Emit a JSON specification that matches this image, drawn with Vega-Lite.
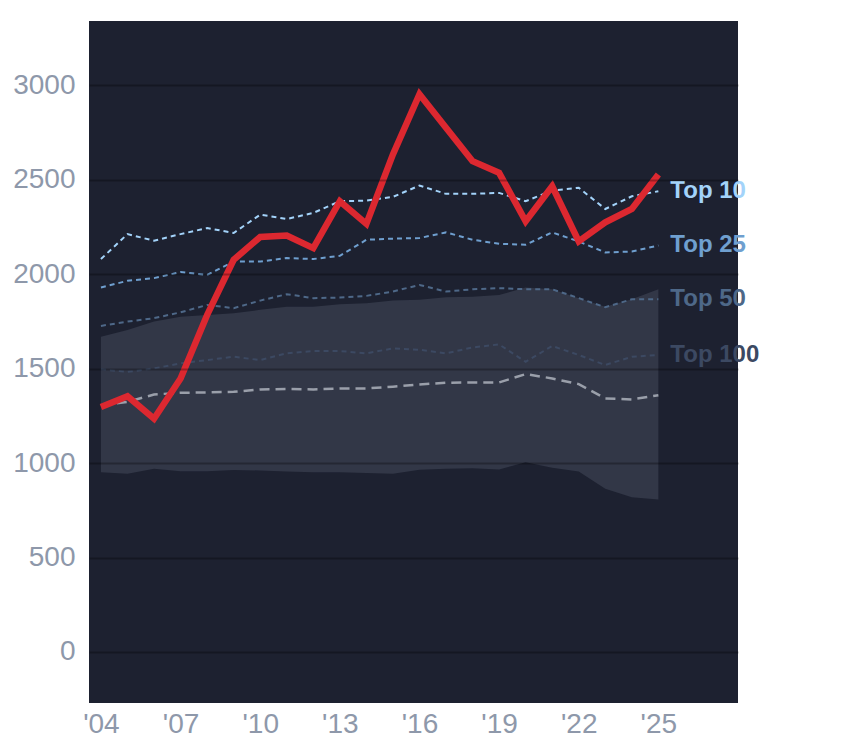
{
  "$schema": "https://vega.github.io/schema/vega-lite/v6.json",
  "width": 649,
  "height": 682,
  "autosize": {"type": "none"},
  "padding": {"left": 89, "top": 21, "right": 106, "bottom": 45},
  "background": "#ffffff",
  "config": {
    "font": "Liberation Sans",
    "view": {"fill": "#1d2130", "stroke": null}
  },
  "datasets": {
    "band": [
      {"year": 2004, "lo": 952, "hi": 1669},
      {"year": 2005, "lo": 943, "hi": 1704},
      {"year": 2006, "lo": 970, "hi": 1749},
      {"year": 2007, "lo": 957, "hi": 1775},
      {"year": 2008, "lo": 957, "hi": 1784},
      {"year": 2009, "lo": 963, "hi": 1793},
      {"year": 2010, "lo": 961, "hi": 1811},
      {"year": 2011, "lo": 956, "hi": 1828},
      {"year": 2012, "lo": 952, "hi": 1828},
      {"year": 2013, "lo": 952, "hi": 1841},
      {"year": 2014, "lo": 947, "hi": 1846},
      {"year": 2015, "lo": 943, "hi": 1860},
      {"year": 2016, "lo": 965, "hi": 1864},
      {"year": 2017, "lo": 970, "hi": 1878},
      {"year": 2018, "lo": 972, "hi": 1881},
      {"year": 2019, "lo": 966, "hi": 1890},
      {"year": 2020, "lo": 1005, "hi": 1929},
      {"year": 2021, "lo": 975, "hi": 1920},
      {"year": 2022, "lo": 956, "hi": 1873},
      {"year": 2023, "lo": 864, "hi": 1828},
      {"year": 2024, "lo": 819, "hi": 1867},
      {"year": 2025, "lo": 807, "hi": 1920}
    ],
    "tops": [
      {"year": 2004, "series": "Top 10", "value": 2080},
      {"year": 2005, "series": "Top 10", "value": 2212},
      {"year": 2006, "series": "Top 10", "value": 2177},
      {"year": 2007, "series": "Top 10", "value": 2212},
      {"year": 2008, "series": "Top 10", "value": 2244},
      {"year": 2009, "series": "Top 10", "value": 2218},
      {"year": 2010, "series": "Top 10", "value": 2315},
      {"year": 2011, "series": "Top 10", "value": 2292},
      {"year": 2012, "series": "Top 10", "value": 2324},
      {"year": 2013, "series": "Top 10", "value": 2386},
      {"year": 2014, "series": "Top 10", "value": 2389},
      {"year": 2015, "series": "Top 10", "value": 2409},
      {"year": 2016, "series": "Top 10", "value": 2469},
      {"year": 2017, "series": "Top 10", "value": 2425},
      {"year": 2018, "series": "Top 10", "value": 2425},
      {"year": 2019, "series": "Top 10", "value": 2430},
      {"year": 2020, "series": "Top 10", "value": 2386},
      {"year": 2021, "series": "Top 10", "value": 2443},
      {"year": 2022, "series": "Top 10", "value": 2457},
      {"year": 2023, "series": "Top 10", "value": 2345},
      {"year": 2024, "series": "Top 10", "value": 2412},
      {"year": 2025, "series": "Top 10", "value": 2439},
      {"year": 2004, "series": "Top 25", "value": 1929},
      {"year": 2005, "series": "Top 25", "value": 1965},
      {"year": 2006, "series": "Top 25", "value": 1979},
      {"year": 2007, "series": "Top 25", "value": 2011},
      {"year": 2008, "series": "Top 25", "value": 1996},
      {"year": 2009, "series": "Top 25", "value": 2067},
      {"year": 2010, "series": "Top 25", "value": 2067},
      {"year": 2011, "series": "Top 25", "value": 2085},
      {"year": 2012, "series": "Top 25", "value": 2080},
      {"year": 2013, "series": "Top 25", "value": 2097},
      {"year": 2014, "series": "Top 25", "value": 2182},
      {"year": 2015, "series": "Top 25", "value": 2188},
      {"year": 2016, "series": "Top 25", "value": 2191},
      {"year": 2017, "series": "Top 25", "value": 2221},
      {"year": 2018, "series": "Top 25", "value": 2182},
      {"year": 2019, "series": "Top 25", "value": 2161},
      {"year": 2020, "series": "Top 25", "value": 2156},
      {"year": 2021, "series": "Top 25", "value": 2221},
      {"year": 2022, "series": "Top 25", "value": 2173},
      {"year": 2023, "series": "Top 25", "value": 2115},
      {"year": 2024, "series": "Top 25", "value": 2120},
      {"year": 2025, "series": "Top 25", "value": 2152},
      {"year": 2004, "series": "Top 50", "value": 1726},
      {"year": 2005, "series": "Top 50", "value": 1749},
      {"year": 2006, "series": "Top 50", "value": 1767},
      {"year": 2007, "series": "Top 50", "value": 1798},
      {"year": 2008, "series": "Top 50", "value": 1837},
      {"year": 2009, "series": "Top 50", "value": 1820},
      {"year": 2010, "series": "Top 50", "value": 1860},
      {"year": 2011, "series": "Top 50", "value": 1894},
      {"year": 2012, "series": "Top 50", "value": 1873},
      {"year": 2013, "series": "Top 50", "value": 1876},
      {"year": 2014, "series": "Top 50", "value": 1885},
      {"year": 2015, "series": "Top 50", "value": 1908},
      {"year": 2016, "series": "Top 50", "value": 1943},
      {"year": 2017, "series": "Top 50", "value": 1908},
      {"year": 2018, "series": "Top 50", "value": 1920},
      {"year": 2019, "series": "Top 50", "value": 1926},
      {"year": 2020, "series": "Top 50", "value": 1920},
      {"year": 2021, "series": "Top 50", "value": 1920},
      {"year": 2022, "series": "Top 50", "value": 1873},
      {"year": 2023, "series": "Top 50", "value": 1825},
      {"year": 2024, "series": "Top 50", "value": 1867},
      {"year": 2025, "series": "Top 50", "value": 1867},
      {"year": 2004, "series": "Top 100", "value": 1496},
      {"year": 2005, "series": "Top 100", "value": 1483},
      {"year": 2006, "series": "Top 100", "value": 1501},
      {"year": 2007, "series": "Top 100", "value": 1528},
      {"year": 2008, "series": "Top 100", "value": 1545},
      {"year": 2009, "series": "Top 100", "value": 1563},
      {"year": 2010, "series": "Top 100", "value": 1545},
      {"year": 2011, "series": "Top 100", "value": 1581},
      {"year": 2012, "series": "Top 100", "value": 1593},
      {"year": 2013, "series": "Top 100", "value": 1593},
      {"year": 2014, "series": "Top 100", "value": 1581},
      {"year": 2015, "series": "Top 100", "value": 1607},
      {"year": 2016, "series": "Top 100", "value": 1600},
      {"year": 2017, "series": "Top 100", "value": 1581},
      {"year": 2018, "series": "Top 100", "value": 1612},
      {"year": 2019, "series": "Top 100", "value": 1628},
      {"year": 2020, "series": "Top 100", "value": 1536},
      {"year": 2021, "series": "Top 100", "value": 1620},
      {"year": 2022, "series": "Top 100", "value": 1572},
      {"year": 2023, "series": "Top 100", "value": 1519},
      {"year": 2024, "series": "Top 100", "value": 1563},
      {"year": 2025, "series": "Top 100", "value": 1572}
    ],
    "median": [
      {"year": 2004, "value": 1305},
      {"year": 2005, "value": 1324},
      {"year": 2006, "value": 1363},
      {"year": 2007, "value": 1372},
      {"year": 2008, "value": 1374},
      {"year": 2009, "value": 1377},
      {"year": 2010, "value": 1390},
      {"year": 2011, "value": 1392},
      {"year": 2012, "value": 1390},
      {"year": 2013, "value": 1395},
      {"year": 2014, "value": 1395},
      {"year": 2015, "value": 1404},
      {"year": 2016, "value": 1416},
      {"year": 2017, "value": 1425},
      {"year": 2018, "value": 1427},
      {"year": 2019, "value": 1427},
      {"year": 2020, "value": 1471},
      {"year": 2021, "value": 1448},
      {"year": 2022, "value": 1418},
      {"year": 2023, "value": 1342},
      {"year": 2024, "value": 1337},
      {"year": 2025, "value": 1359}
    ],
    "main": [
      {"year": 2004, "value": 1297},
      {"year": 2005, "value": 1354},
      {"year": 2006, "value": 1235},
      {"year": 2007, "value": 1448},
      {"year": 2008, "value": 1784},
      {"year": 2009, "value": 2076},
      {"year": 2010, "value": 2197},
      {"year": 2011, "value": 2204},
      {"year": 2012, "value": 2138},
      {"year": 2013, "value": 2386},
      {"year": 2014, "value": 2266},
      {"year": 2015, "value": 2634},
      {"year": 2016, "value": 2952},
      {"year": 2017, "value": 2775},
      {"year": 2018, "value": 2598},
      {"year": 2019, "value": 2536},
      {"year": 2020, "value": 2280},
      {"year": 2021, "value": 2465},
      {"year": 2022, "value": 2173},
      {"year": 2023, "value": 2274},
      {"year": 2024, "value": 2345},
      {"year": 2025, "value": 2527}
    ]
  },
  "encoding": {
    "x": {
      "field": "year",
      "type": "quantitative",
      "scale": {"domain": [2003.55, 2028.0], "nice": false, "zero": false},
      "axis": {
        "title": null,
        "values": [2004, 2007, 2010, 2013, 2016, 2019, 2022, 2025],
        "labelExpr": "\"'\" + substring(toString(datum.value), 2)",
        "grid": false,
        "domain": false,
        "ticks": false,
        "tickSize": 0,
        "labelPadding": 7,
        "labelFontSize": 28,
        "labelColor": "#8e98aa",
        "labelFont": "Liberation Sans"
      }
    }
  },
  "layer": [
    {
      "data": {"name": "band"},
      "mark": {"type": "area", "color": "#323747", "interpolate": "linear"},
      "encoding": {
        "y": {
          "field": "hi",
          "type": "quantitative",
          "scale": {"domain": [-270, 3340], "nice": false, "zero": false},
          "axis": {
            "title": null,
            "values": [0, 500, 1000, 1500, 2000, 2500, 3000],
            "format": "d",
            "grid": true,
            "gridColor": "#000000",
            "gridOpacity": 0.28,
            "gridWidth": 2,
            "domain": false,
            "ticks": false,
            "tickSize": 0,
            "labelPadding": 14,
            "labelFontSize": 28,
            "labelColor": "#8e98aa",
            "labelFont": "Liberation Sans",
            "zindex": 1
          }
        },
        "y2": {"field": "lo"}
      }
    },
    {
      "data": {"name": "median"},
      "mark": {"type": "line", "color": "#9a9faa", "strokeWidth": 2.5, "strokeDash": [10, 6]},
      "encoding": {
        "y": {"field": "value", "type": "quantitative"}
      }
    },
    {
      "data": {"name": "tops"},
      "mark": {"type": "line", "strokeWidth": 2, "strokeDash": [5, 4]},
      "encoding": {
        "y": {"field": "value", "type": "quantitative"},
        "color": {
          "field": "series",
          "type": "nominal",
          "legend": null,
          "scale": {
            "domain": ["Top 10", "Top 25", "Top 50", "Top 100"],
            "range": ["#a3d3fa", "#6f9fcf", "#4e6888", "#3c4962"]
          }
        }
      }
    },
    {
      "data": {"name": "main"},
      "mark": {"type": "line", "color": "#dc2830", "strokeWidth": 6.5, "strokeJoin": "miter"},
      "encoding": {
        "y": {"field": "value", "type": "quantitative"}
      }
    },
    {
      "data": {"name": "tops"},
      "transform": [{"filter": "datum.year === 2025"}],
      "mark": {"type": "text", "align": "left", "baseline": "middle", "dx": 12, "fontSize": 24, "fontWeight": "bold", "font": "Liberation Sans"},
      "encoding": {
        "y": {"field": "value", "type": "quantitative"},
        "text": {"field": "series"},
        "color": {"field": "series", "type": "nominal", "legend": null}
      }
    }
  ]
}
